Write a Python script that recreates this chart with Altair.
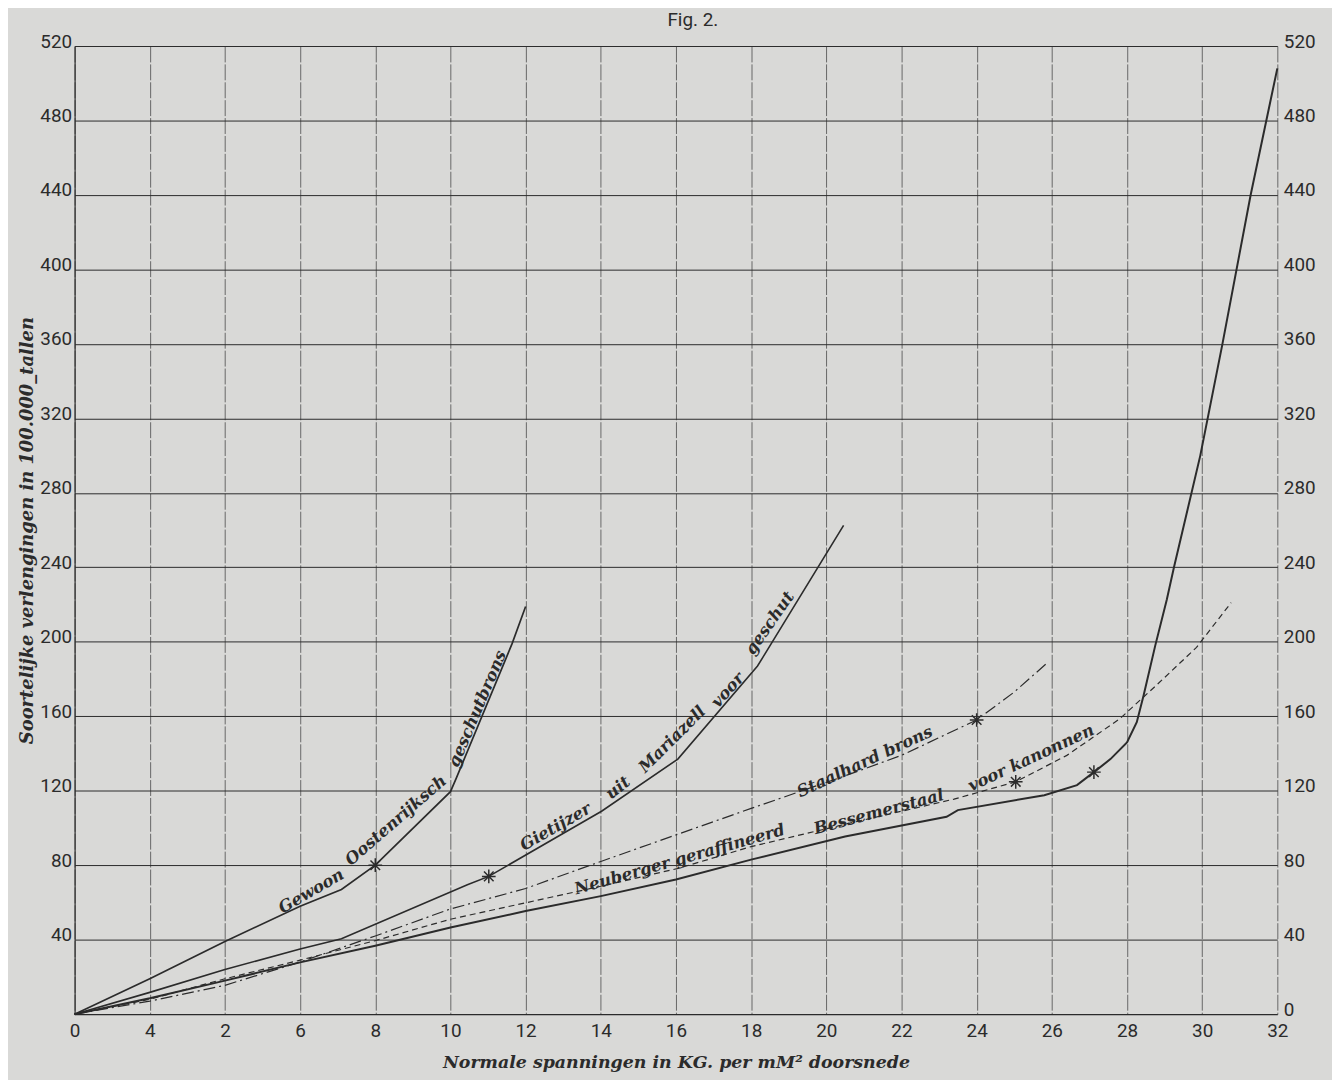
import altair as alt
import pandas as pd

# ---------------- data ----------------
gewoon_x = [0, 2, 4, 6, 7.1, 8, 10, 10.15, 11.64, 12]
gewoon_y = [0, 19, 39, 58, 67, 80, 119.5, 126.5, 199, 219]

gietijzer_x = [0, 2, 4, 6, 7.1, 10.45, 11.02, 14.02, 16.05, 18.17, 20.46]
gietijzer_y = [0, 11.7, 24, 35, 40.5, 69.5, 74, 109, 137, 187, 262.5]

staalhard_x = [0, 2, 4, 6, 8, 10, 12, 14, 16.1, 18, 20.5, 22, 24, 25, 25.84]
staalhard_y = [0, 7, 15.5, 28, 42, 56.5, 67.5, 82, 97, 110.5, 128, 139, 158, 173, 188]

dashed_x = [0, 2, 4, 6, 8, 10, 12, 14, 16.1, 18, 20.5, 23.4, 25.04, 26.4, 27.8, 28.8, 29.85, 30.77]
dashed_y = [0, 8, 19, 29, 39.5, 51, 59.8, 68.7, 78.5, 90, 102, 115.5, 124.8, 139, 158.5, 177, 197, 221]

bessemer_x = [0, 2, 4, 6, 8, 10, 12, 14, 16, 18, 20.5, 23.2, 23.5, 25.8, 26.67, 27.12, 27.56,
              28.0, 28.26, 28.44, 28.75, 29.06, 29.25, 29.95, 30.54, 31.29, 32.0]
bessemer_y = [0, 8.5, 18, 27.8, 36.7, 46.5, 55.4, 63.4, 72.3, 83, 95.4, 106, 109.6, 117.6, 123, 130, 137,
              146, 156.8, 171, 197.8, 222.7, 240, 300, 360, 440, 508]

star_x = [8, 11.02, 24, 25.04, 27.12]
star_y = [80, 74, 158, 124.8, 130]

label_words = ["Gewoon", "Oostenrijksch", "geschutbrons",
               "Gietijzer", "uit", "Mariazell", "voor", "geschut",
               "Staalhard brons",
               "Neuberger geraffineerd", "Bessemerstaal", "voor kanonnen"]
label_x = [6.3, 8.55, 10.72, 12.8, 14.46, 15.9, 17.38, 18.5, 21.03, 16.1, 21.4, 25.45]
label_y = [66, 104, 164, 100.5, 121.5, 147.5, 174, 210, 135.5, 83, 108.5, 137.5]
label_angle = [330, 319, 293, 330, 322, 315, 312, 305, 335, 344, 345, 335]

x_tick_values = list(range(0, 33, 2))
x_tick_labels = ["0", "4", "2", "6", "8", "10", "12", "14", "16", "18", "20",
                 "22", "24", "26", "28", "30", "32"]
y_left_values = list(range(40, 521, 40))
y_right_values = list(range(0, 521, 40))

x_title = "Normale spanningen in KG. per mM\u00b2 doorsnede"
y_title = "Soortelijke verlengingen in 100.000_tallen"
fig_title = "Fig. 2."

# ---------------- styling ----------------
INK = "#2b2b2b"
BG = "#d9d9d7"
NUM_FONT = "Roboto"
SERIF = "DejaVu Serif"


def frame(xs, ys):
    return pd.DataFrame({"x": xs, "y": ys, "i": list(range(len(xs)))})


label_expr = "[" + ",".join("'%s'" % s for s in x_tick_labels) + "][round(datum.value / 2)]"

xscale = alt.Scale(domain=[0, 32], nice=False, zero=False)
yscale = alt.Scale(domain=[0, 520], nice=False, zero=False)

x_axis = alt.Axis(values=x_tick_values, labelExpr=label_expr, grid=True,
                  gridColor="#4a4a4a", gridWidth=0.8, gridDash=[16, 2],
                  domain=True, domainColor=INK, domainWidth=1.2, ticks=False,
                  labelFont=NUM_FONT, labelFontSize=19, labelColor=INK, labelPadding=7,
                  labelFlush=False, labelOverlap=False,
                  title=x_title, titleFont=SERIF, titleFontStyle="italic",
                  titleFontWeight="bold", titleFontSize=17.5, titleColor=INK, titlePadding=14)

y_left = alt.Axis(values=y_left_values, orient="left", grid=True, gridColor=INK, gridWidth=1,
                  domain=True, domainColor=INK, domainWidth=1.2, ticks=False,
                  labelFont=NUM_FONT, labelFontSize=19, labelColor=INK, labelPadding=3,
                  labelOffset=-5, labelFlush=False, labelOverlap=False,
                  title=y_title, titleFont=SERIF, titleFontStyle="italic",
                  titleFontWeight="bold", titleFontSize=18, titleColor=INK, titlePadding=3)

y_right = alt.Axis(values=y_right_values, orient="right", grid=False, domain=False, ticks=False,
                   labelFont=NUM_FONT, labelFontSize=19, labelColor=INK, labelPadding=6,
                   labelOffset=-5, labelFlush=False, labelOverlap=False, title=None)


def line(xs, ys, yaxis=None, dash=None, width=1.6):
    kw = dict(color=INK, strokeWidth=width)
    if dash:
        kw["strokeDash"] = dash
    return alt.Chart(frame(xs, ys)).mark_line(**kw).encode(
        x=alt.X("x:Q", scale=xscale, axis=x_axis),
        y=alt.Y("y:Q", scale=yscale, axis=yaxis),
        order=alt.Order("i:Q"),
    )


l_gewoon = line(gewoon_x, gewoon_y, yaxis=y_left, width=1.7)
l_giet = line(gietijzer_x, gietijzer_y, width=1.6)
l_staal = line(staalhard_x, staalhard_y, dash=[12, 4, 2, 4], width=1.2)
l_dash = line(dashed_x, dashed_y, dash=[6, 4], width=1.2)
l_bess = line(bessemer_x, bessemer_y, yaxis=y_right, width=2.0)

asterisk = "M-1,0L1,0M0,-1L0,1M-0.7,-0.7L0.7,0.7M-0.7,0.7L0.7,-0.7"
stars = alt.Chart(frame(star_x, star_y)).mark_point(
    shape=asterisk, filled=False, size=190, strokeWidth=1.5, color=INK, opacity=1
).encode(
    x=alt.X("x:Q", scale=xscale, axis=x_axis),
    y=alt.Y("y:Q", scale=yscale, axis=None),
)

labels_df = pd.DataFrame({"word": label_words, "x": label_x, "y": label_y, "angle": label_angle})
labels = alt.Chart(labels_df).mark_text(
    font=SERIF, fontStyle="italic", fontWeight="bold", fontSize=16.5, color=INK,
    align="center", baseline="middle"
).encode(
    x=alt.X("x:Q", scale=xscale, axis=x_axis),
    y=alt.Y("y:Q", scale=yscale, axis=None),
    text="word:N",
    angle=alt.Angle("angle:Q", scale=None),
)

title = alt.Chart(pd.DataFrame({"t": [fig_title]})).mark_text(
    font=NUM_FONT, fontSize=19, color=INK, align="center", baseline="middle"
).encode(x=alt.value(622), y=alt.value(-26), text="t:N")

chart = alt.layer(l_gewoon, l_giet, l_staal, l_dash, l_bess, stars, labels, title).resolve_axis(
    y="independent"
).properties(
    width=1210, height=974,
    autosize=alt.AutoSizeParams(type="none"),
    padding={"left": 67, "top": 35, "right": 55, "bottom": 63},
    background=BG,
).configure_view(stroke=None)

chart.save("out.html", embed_options={"renderer": "svg", "actions": False})
